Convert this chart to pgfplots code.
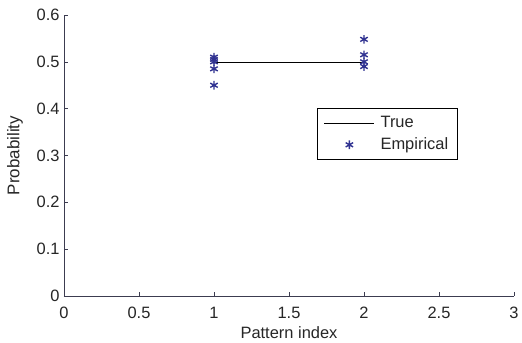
\documentclass[border=0pt]{standalone}
\usepackage{fontspec}
\setmainfont{Liberation Sans}
\usepackage{pgfplots}
\pgfplotsset{compat=1.18}
\definecolor{mblue}{RGB}{48,50,145}
\definecolor{axgray}{RGB}{60,60,80}
\begin{document}
\begin{tikzpicture}
\begin{axis}[
  name=ax,
  scale only axis,
  width=450bp, height=281bp,
  xmin=0, xmax=3, ymin=0, ymax=0.6,
  axis x line=bottom, axis y line=left,
  axis line style={-, axgray, line width=0.6pt},
  tick style={axgray, line width=0.6pt},
  tick align=inside,
  major tick length=4bp,
  xtick={0,0.5,...,3}, ytick={0,0.1,...,0.6},
  xticklabels={0,0.5,1,1.5,2,2.5,3},
  yticklabels={0,0.1,0.2,0.3,0.4,0.5,0.6},
  tick label style={font=\fontsize{16.5}{18}\selectfont, text=black!85},
  xticklabel style={anchor=center, yshift=-17bp},
  yticklabel style={anchor=east, xshift=-1bp},
  xlabel={Pattern index}, ylabel={Probability},
  xlabel style={at={(axis description cs:0.5,0)}, anchor=center, yshift=-37bp, font=\fontsize{16.5}{18}\selectfont, text=black!85},
  ylabel style={at={(axis description cs:0,0.5)}, anchor=center, yshift=49bp, font=\fontsize{17}{18}\selectfont, text=black!85},
  legend style={at={(0.562,0.669)}, anchor=north west, font=\fontsize{16.5}{18}\selectfont, draw=black, line width=0.6pt, inner xsep=7bp, inner ysep=6bp, row sep=5bp, text=black!85,
    /tikz/every odd column/.append style={column sep=4bp}},
  legend cell align=left,
  legend image code/.code={\draw[mark repeat=2,mark phase=2,#1] plot coordinates {(0bp,0bp) (25bp,0bp) (50bp,0bp)};},
]
\addplot[black, thin] coordinates {(1,0.5) (2,0.5)};
\addlegendentry{True}
\addplot[only marks, mark=asterisk, mark size=4.3bp, mblue, mark options={line width=1.4pt}] coordinates {
(1,0.51) (1,0.505) (1,0.50) (1,0.485) (1,0.45)
(2,0.548) (2,0.515) (2,0.50) (2,0.49)
};
\addlegendentry{Empirical}
\end{axis}
\path (ax.south west) ++(-64bp,-43bp) coordinate (bbl);
\path (ax.north east) ++(8bp,15bp) coordinate (bbr);
\path (bbl) rectangle (bbr);
\end{tikzpicture}
\end{document}
